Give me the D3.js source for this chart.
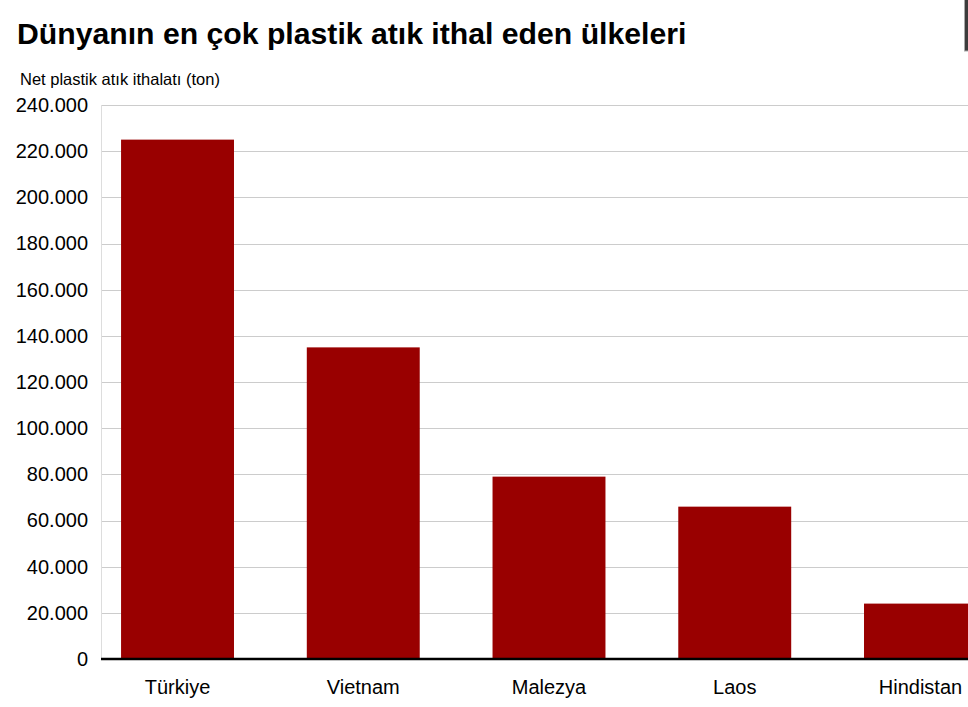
<!DOCTYPE html>
<html>
<head>
<meta charset="utf-8">
<script src="https://cdn.jsdelivr.net/npm/d3@7"></script>
<style>
  html, body { margin: 0; padding: 0; background: #fff; }
  svg { display: block; font-family: "Liberation Sans", Arial, sans-serif; }
</style>
</head>
<body>
<svg id="chart" width="968" height="707"></svg>
<script>
const categories = ["Türkiye", "Vietnam", "Malezya", "Laos", "Hindistan"];
const values = [225000, 135000, 79000, 66000, 24000];
const tickValues = [0, 20000, 40000, 60000, 80000, 100000, 120000, 140000, 160000, 180000, 200000, 220000, 240000];
const titleText = "Dünyanın en çok plastik atık ithal eden ülkeleri";
const yLabelText = "Net plastik atık ithalatı (ton)";

(function () {
const svg = d3.select("#chart");
const W = 968;
const mLeft = 101, mTop = 105, mBottom = 659;

const y = d3.scaleLinear().domain([0, 240000]).range([mBottom, mTop]);
const x = d3.scaleBand().domain(categories).range([mLeft, 997])
  .paddingInner(0.392).paddingOuter(0.108);

const fmt = v => d3.format(",")(v).replace(/,/g, ".");

// title
svg.append("text").attr("x", 17).attr("y", 43.5)
  .attr("font-size", 30.2).attr("font-weight", "bold").attr("fill", "#000")
  .text(titleText);
svg.append("text").attr("x", 20).attr("y", 85)
  .attr("font-size", 16.5).attr("fill", "#000")
  .text(yLabelText);

// gridlines
svg.append("g").selectAll("line").data(tickValues.filter(d => d > 0)).join("line")
  .attr("x1", mLeft).attr("x2", W)
  .attr("y1", d => Math.round(y(d)) + 0.5).attr("y2", d => Math.round(y(d)) + 0.5)
  .attr("stroke", "#cccccc").attr("stroke-width", 1);

// left vertical line
svg.append("line").attr("x1", mLeft + 0.5).attr("x2", mLeft + 0.5)
  .attr("y1", mTop).attr("y2", mBottom).attr("stroke", "#dddddd");

// y axis labels
const yAxis = d3.axisLeft(y).tickValues(tickValues).tickFormat(fmt).tickSize(0).tickPadding(13);
const gy = svg.append("g").attr("transform", `translate(${mLeft},0)`).call(yAxis);
gy.select(".domain").remove();
gy.selectAll("text").attr("font-size", 20).attr("fill", "#000")
  .attr("font-family", "'Liberation Sans', Arial, sans-serif");

// bars
svg.append("g").selectAll("rect").data(values).join("rect")
  .attr("x", (d, i) => x(categories[i]))
  .attr("width", x.bandwidth())
  .attr("y", d => y(d))
  .attr("height", d => y(0) - y(d))
  .attr("fill", "#990000");

// zero line
svg.append("line").attr("x1", mLeft).attr("x2", W)
  .attr("y1", y(0)).attr("y2", y(0))
  .attr("stroke", "#000").attr("stroke-width", 2.5);

// x axis labels
const xAxis = d3.axisBottom(x).tickSize(0).tickPadding(21);
const gx = svg.append("g").attr("transform", `translate(0,${mBottom})`).call(xAxis);
gx.select(".domain").remove();
gx.selectAll("text").attr("font-size", 20).attr("fill", "#000")
  .attr("font-family", "'Liberation Sans', Arial, sans-serif");

// top-right corner element
svg.append("rect").attr("x", 964.5).attr("y", -2).attr("width", 10).attr("height", 53)
  .attr("fill", "#3c3c3c").attr("stroke", "#aaaaaa").attr("stroke-width", 1);
})();
</script>
</body>
</html>
